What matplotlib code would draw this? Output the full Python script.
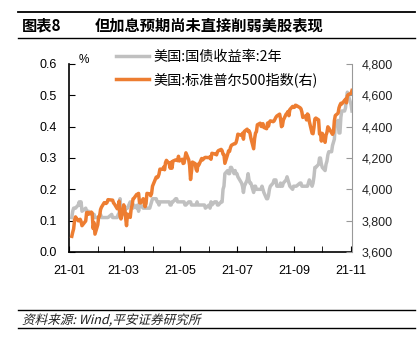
import numpy as np
import pandas as pd
import matplotlib
matplotlib.use('Agg')
import matplotlib.pyplot as plt
import matplotlib.dates as mdates
from matplotlib.ticker import FuncFormatter, MultipleLocator
from matplotlib.lines import Line2D
from matplotlib.textpath import TextPath
from matplotlib.patches import PathPatch
from matplotlib.font_manager import FontProperties
from matplotlib.transforms import Affine2D

plt.rcParams['font.family'] = ['Liberation Sans', 'Noto Sans CJK SC', 'DejaVu Sans']
CJK = ['Noto Sans CJK SC', 'DejaVu Sans']

# trading days 2021-01-04 .. 2021-11-02, US holidays removed
holidays = ['2021-01-18', '2021-02-15', '2021-04-02', '2021-05-31', '2021-07-05', '2021-09-06']

# S&P 500 close, by month
spx_jan = [3700, 3726, 3748, 3803, 3824, 3799, 3801, 3809, 3795, 3768, 3798, 3851, 3853, 3841, 3855, 3849, 3750, 3787, 3714]
spx_feb = [3774, 3826, 3830, 3871, 3886, 3915, 3911, 3910, 3916, 3934, 3932, 3931, 3913, 3906, 3876, 3881, 3925, 3829, 3811]
spx_mar = [3901, 3870, 3820, 3768, 3842, 3821, 3875, 3898, 3939, 3943, 3968, 3962, 3974, 3915, 3913, 3940, 3910, 3889, 3909, 3974, 3971, 3959, 3973]
spx_apr = [4020, 4078, 4074, 4080, 4097, 4129, 4128, 4142, 4125, 4170, 4185, 4163, 4135, 4173, 4135, 4180, 4188, 4187, 4183, 4211, 4181]
spx_may = [4192, 4165, 4168, 4201, 4233, 4189, 4152, 4063, 4113, 4174, 4164, 4128, 4116, 4160, 4156, 4197, 4188, 4195, 4201, 4204]
spx_jun = [4202, 4208, 4192, 4230, 4226, 4227, 4220, 4239, 4247, 4255, 4247, 4224, 4222, 4166, 4224, 4246, 4242, 4266, 4281, 4291, 4291, 4298]
spx_jul = [4320, 4352, 4344, 4358, 4320, 4370, 4384, 4369, 4374, 4360, 4327, 4259, 4323, 4359, 4368, 4412, 4422, 4402, 4401, 4419, 4395]
spx_aug = [4387, 4423, 4403, 4429, 4437, 4432, 4436, 4448, 4460, 4468, 4480, 4449, 4400, 4406, 4442, 4480, 4486, 4497, 4470, 4509, 4529, 4523]
spx_sep = [4524, 4537, 4535, 4521, 4514, 4493, 4459, 4469, 4443, 4481, 4474, 4433, 4358, 4355, 4395, 4449, 4455, 4443, 4353, 4360, 4308]
spx_oct = [4357, 4300, 4346, 4363, 4399, 4391, 4361, 4351, 4364, 4438, 4471, 4486, 4520, 4537, 4549, 4545, 4567, 4575, 4552, 4597, 4605]
spx_nov = [4613, 4631]

# US 2y treasury yield (%), by month
ust_jan = [0.11, 0.13, 0.14, 0.14, 0.14, 0.15, 0.16, 0.15, 0.16, 0.13, 0.14, 0.13, 0.13, 0.13, 0.12, 0.12, 0.12, 0.12, 0.11]
ust_feb = [0.11, 0.11, 0.11, 0.12, 0.11, 0.11, 0.11, 0.11, 0.11, 0.11, 0.12, 0.11, 0.11, 0.11, 0.11, 0.12, 0.12, 0.17, 0.13]
ust_mar = [0.13, 0.12, 0.14, 0.14, 0.14, 0.16, 0.15, 0.15, 0.14, 0.15, 0.14, 0.15, 0.13, 0.15, 0.15, 0.14, 0.14, 0.14, 0.14, 0.14, 0.14, 0.15, 0.16]
ust_apr = [0.17, 0.17, 0.16, 0.16, 0.15, 0.16, 0.16, 0.16, 0.16, 0.16, 0.16, 0.16, 0.15, 0.15, 0.16, 0.16, 0.17, 0.17, 0.16, 0.16, 0.16]
ust_may = [0.16, 0.16, 0.16, 0.15, 0.15, 0.16, 0.16, 0.16, 0.15, 0.15, 0.15, 0.15, 0.16, 0.15, 0.15, 0.15, 0.15, 0.15, 0.15, 0.14]
ust_jun = [0.15, 0.14, 0.16, 0.15, 0.16, 0.16, 0.16, 0.15, 0.15, 0.16, 0.16, 0.20, 0.21, 0.25, 0.26, 0.25, 0.25, 0.27, 0.27, 0.25, 0.26, 0.25]
ust_jul = [0.25, 0.24, 0.22, 0.21, 0.19, 0.21, 0.23, 0.25, 0.23, 0.22, 0.22, 0.19, 0.21, 0.21, 0.20, 0.20, 0.20, 0.20, 0.21, 0.20, 0.19]
ust_aug = [0.17, 0.17, 0.18, 0.20, 0.21, 0.22, 0.23, 0.23, 0.23, 0.21, 0.21, 0.22, 0.21, 0.21, 0.22, 0.23, 0.24, 0.23, 0.22, 0.21, 0.20, 0.21]
ust_sep = [0.21, 0.21, 0.21, 0.22, 0.22, 0.21, 0.21, 0.21, 0.21, 0.21, 0.22, 0.23, 0.21, 0.22, 0.24, 0.27, 0.27, 0.28, 0.30, 0.30, 0.28]
ust_oct = [0.27, 0.26, 0.28, 0.29, 0.31, 0.32, 0.32, 0.34, 0.35, 0.36, 0.41, 0.42, 0.38, 0.38, 0.43, 0.45, 0.45, 0.46, 0.49, 0.51, 0.50]
ust_nov = [0.47, 0.45]

spx = spx_jan + spx_feb + spx_mar + spx_apr + spx_may + spx_jun + spx_jul + spx_aug + spx_sep + spx_oct + spx_nov
ust = ust_jan + ust_feb + ust_mar + ust_apr + ust_may + ust_jun + ust_jul + ust_aug + ust_sep + ust_oct + ust_nov

days = pd.bdate_range('2021-01-04', '2021-11-02')
days = days[~days.isin(pd.to_datetime(holidays))]
n = min(len(days), len(spx), len(ust))
days, spx, ust = days[:n], spx[:n], ust[:n]

GRAY = '#c0c0c0'
ORANGE = '#ed7d31'
W, H = 419, 344

fig = plt.figure(figsize=(W / 100, H / 100), dpi=100)
ax = fig.add_axes([69 / W, 1 - 252 / H, 283 / W, 188 / H])
ax2 = ax.twinx()

ax.plot(days, ust, color=GRAY, linewidth=2.5, zorder=2)
ax2.plot(days, spx, color=ORANGE, linewidth=2.5, zorder=3)

ax.set_ylim(0, 0.6)
ax.yaxis.set_major_locator(MultipleLocator(0.1))
ax.yaxis.set_major_formatter(FuncFormatter(lambda v, p: '%.1f' % v))
ax2.set_ylim(3600, 4800)
ax2.yaxis.set_major_locator(MultipleLocator(200))
ax2.yaxis.set_major_formatter(FuncFormatter(lambda v, p: '{:,.0f}'.format(v)))

ax.set_xlim(pd.Timestamp('2021-01-01'), pd.Timestamp('2021-11-02'))
ax.xaxis.set_major_locator(mdates.MonthLocator(bymonth=[1, 3, 5, 7, 9, 11]))
ax.xaxis.set_minor_locator(mdates.MonthLocator())
ax.xaxis.set_major_formatter(mdates.DateFormatter('%y-%m'))

for a in (ax, ax2):
    a.spines['top'].set_visible(False)
ax.spines['right'].set_visible(False)
ax2.spines['left'].set_visible(False)
ax2.spines['bottom'].set_visible(False)
ax2.spines['right'].set_color('#999999')
ax.spines['left'].set_linewidth(1.2)
ax.spines['bottom'].set_linewidth(1.2)

ax.tick_params(axis='y', direction='in', length=4, labelsize=9, pad=9)
ax.tick_params(axis='x', which='both', direction='in', length=4, labelsize=9, pad=9)
ax2.tick_params(axis='y', direction='in', length=4, labelsize=9, colors='#999999',
                labelcolor='#222222', pad=7)

fig.text(84 / W, 1 - 60 / H, '%', fontsize=8.5, ha='center', va='center')

handles = [Line2D([], [], color=GRAY, linewidth=2.5),
           Line2D([], [], color=ORANGE, linewidth=2.5)]
fig.legend(handles, ['美国:国债收益率:2年', '美国:标准普尔500指数(右)'],
           loc='upper left', bbox_to_anchor=(116 / W, 1 - 50 / H),
           frameon=False, handlelength=2.3, handletextpad=0.35,
           labelspacing=0.6, borderaxespad=0, borderpad=0,
           prop={'family': CJK, 'size': 10.2})

# header and footer rules
for yy, lw in ((12, 1.3), (38, 1.0), (310, 1.0), (328, 1.0)):
    fig.add_artist(Line2D([18 / W, 415 / W], [1 - yy / H, 1 - yy / H],
                          color='black', linewidth=lw))
fig.text(22 / W, 1 - 25 / H, '图表8', fontsize=11, fontweight='bold', va='center', family=CJK)
fig.text(95 / W, 1 - 25 / H, '但加息预期尚未直接削弱美股表现', fontsize=11,
         fontweight='bold', va='center', family=CJK)

# source line, slanted by hand since the CJK font has no italic face
src = TextPath((0, 0), '资料来源: Wind,平安证券研究所', size=12.6,
               prop=FontProperties(family='Noto Sans CJK SC'))
slant = Affine2D().skew_deg(14, 0).translate(22, H - 324)
fig.add_artist(PathPatch(src, transform=slant, facecolor='#222222', edgecolor='none'))

fig.savefig('out.png', dpi=100)
